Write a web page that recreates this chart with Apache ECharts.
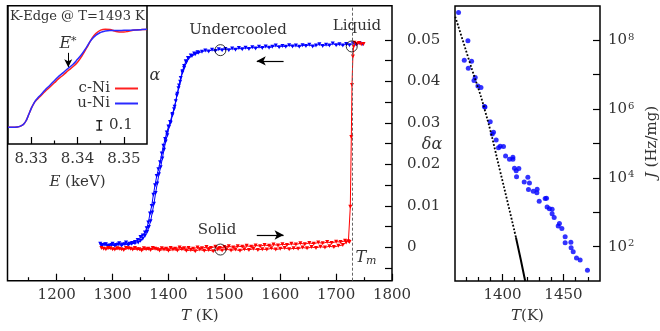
<!DOCTYPE html>
<html lang="en">
<head>
<meta charset="UTF-8">
<title>Ni undercooling</title>
<script src="https://cdn.jsdelivr.net/npm/echarts@6.0.0/dist/echarts.min.js"></script>
<style>
  html, body { margin: 0; padding: 0; background: #fff; }
  #chart { width: 660px; height: 331px; }
</style>
</head>
<body>
<div id="chart"></div>
<script>
// ---- main panel: delta alpha vs T ----
const mainXTicks = [1200, 1300, 1400, 1500, 1600, 1700, 1800];
const mainXMinor = [1150, 1250, 1350, 1450, 1550, 1650, 1750];
const mainYLabels = [0, 0.01, 0.02, 0.03, 0.04, 0.05];
const mainYTicks = [-0.005, 0, 0.005, 0.01, 0.015, 0.02, 0.025, 0.03, 0.035, 0.04, 0.045, 0.05];
const tMelt = 1728;

// undercooled liquid (cooling), two runs
const blueAT = [1748,1742,1736,1730,1724,1718,1712,1706,1700,1694,1688,1682,1676,1670,1664,1658,1652,1646,1640,1634,1628,1622,1616,1610,1604,1598,1592,1586,1580,1574,1568,1562,1556,1550,1544,1538,1532,1526,1520,1514,1508,1502,1496,1490,1484,1478,1472,1466,1460,1454,1448,1442,1436,1432,1428,1425,1421,1418,1415,1411,1407,1403,1400,1397,1394,1391,1388,1385,1382,1379,1376,1373,1370,1367,1364,1361,1358,1354,1350,1345,1340,1335,1330,1324,1318,1312,1306,1300,1294,1288,1282,1278];
const blueAV = [0.0489,0.0492,0.0488,0.0491,0.0487,0.0490,0.0486,0.0489,0.0487,0.0491,0.0486,0.0488,0.0485,0.0489,0.0486,0.0484,0.0488,0.0485,0.0487,0.0483,0.0486,0.0484,0.0487,0.0483,0.0485,0.0482,0.0486,0.0483,0.0481,0.0484,0.0480,0.0483,0.0479,0.0482,0.0478,0.0481,0.0477,0.0480,0.0476,0.0479,0.0475,0.0478,0.0475,0.0477,0.0473,0.0476,0.0472,0.0474,0.0471,0.0469,0.0465,0.0461,0.0455,0.0445,0.0432,0.0421,0.0399,0.0383,0.0366,0.0339,0.0321,0.0302,0.0291,0.0277,0.0261,0.0245,0.0226,0.0205,0.0188,0.0172,0.0150,0.0127,0.0100,0.0082,0.0060,0.0046,0.0036,0.0029,0.0025,0.0018,0.0013,0.0011,0.0009,0.0012,0.0007,0.0010,0.0006,0.0009,0.0005,0.0008,0.0006,0.0009];
const blueBT = [1280,1286,1292,1298,1304,1310,1316,1322,1328,1334,1340,1346,1350,1354,1358,1362,1365,1368,1371,1374,1377,1380,1383,1386,1389,1392,1395,1398,1401,1404,1407,1410,1413,1416,1419,1422,1425,1428,1431,1435,1440,1446,1452];
const blueBV = [0.0004,0.0007,0.0003,0.0006,0.0004,0.0007,0.0005,0.0008,0.0006,0.0009,0.0010,0.0012,0.0016,0.0021,0.0028,0.0038,0.0049,0.0063,0.0084,0.0105,0.0131,0.0154,0.0176,0.0193,0.0214,0.0235,0.0255,0.0270,0.0290,0.0300,0.0318,0.0333,0.0352,0.0370,0.0390,0.0408,0.0424,0.0437,0.0448,0.0456,0.0462,0.0467,0.0470];

// solid (heating), two runs
const red1T = [1280,1288,1296,1304,1312,1320,1328,1336,1344,1352,1360,1368,1376,1384,1392,1400,1408,1416,1424,1432,1440,1448,1456,1464,1472,1480,1488,1496,1504,1512,1520,1528,1536,1544,1552,1560,1568,1576,1584,1592,1600,1608,1616,1624,1632,1640,1648,1656,1664,1672,1680,1688,1696,1704,1712,1718];
const red1V = [-0.0001,-0.0004,-0.0002,-0.0005,-0.0003,-0.0006,-0.0002,-0.0005,-0.0004,-0.0007,-0.0004,-0.0006,-0.0003,-0.0007,-0.0005,-0.0008,-0.0005,-0.0007,-0.0004,-0.0008,-0.0006,-0.0009,-0.0005,-0.0008,-0.0006,-0.0009,-0.0005,-0.0007,-0.0004,-0.0007,-0.0005,-0.0008,-0.0004,-0.0006,-0.0003,-0.0006,-0.0004,-0.0005,-0.0002,-0.0005,-0.0003,-0.0001,-0.0004,-0.0002,-0.0003,0.0000,-0.0002,0.0001,-0.0001,0.0002,0.0000,0.0003,0.0001,0.0004,0.0006,0.0012];
const red2T = [1284,1292,1300,1308,1316,1324,1332,1340,1348,1356,1364,1372,1380,1388,1396,1404,1412,1420,1428,1436,1444,1452,1460,1468,1476,1484,1492,1500,1508,1516,1524,1532,1540,1548,1556,1564,1572,1580,1588,1596,1604,1612,1620,1628,1636,1644,1652,1660,1668,1676,1684,1692,1700,1708,1716,1722,1724,1725.4,1727.2,1728.4,1730,1731.3,1733,1737,1741,1745,1749];
const red2V = [-0.0003,-0.0001,-0.0004,-0.0002,-0.0004,-0.0001,-0.0003,-0.0001,-0.0004,-0.0002,-0.0003,-0.0001,-0.0004,-0.0002,-0.0003,-0.0001,-0.0003,0.0000,-0.0002,-0.0001,-0.0003,0.0000,-0.0002,0.0001,-0.0001,0.0002,-0.0001,0.0001,0.0003,0.0000,0.0003,0.0002,0.0004,0.0002,0.0005,0.0003,0.0006,0.0004,0.0007,0.0005,0.0008,0.0006,0.0009,0.0007,0.0010,0.0008,0.0011,0.0009,0.0012,0.0010,0.0013,0.0011,0.0014,0.0013,0.0016,0.0015,0.0013,0.0098,0.0266,0.0391,0.0460,0.0483,0.0493,0.0490,0.0492,0.0489,0.0490];

// state markers: undercooled, solid, liquid
const circleT = [1493, 1493, 1728];
const circleV = [0.0475, -0.0005, 0.0484];

// ---- inset: XANES K-edge ----
const xanesTicks = [8.33, 8.34, 8.35];
const xanesMinor = [8.335, 8.345];
const xanesE = [8.325,8.326,8.327,8.328,8.3285,8.329,8.3295,8.330,8.3305,8.331,8.3315,8.332,8.333,8.334,8.335,8.336,8.337,8.338,8.339,8.340,8.341,8.342,8.343,8.344,8.345,8.346,8.347,8.348,8.349,8.350,8.351,8.352,8.353,8.354,8.355];
const uNiMu = [0.0,0.0,0.003,0.02,0.04,0.08,0.14,0.20,0.25,0.29,0.32,0.345,0.40,0.45,0.50,0.55,0.59,0.635,0.675,0.73,0.79,0.865,0.94,0.99,1.02,1.035,1.04,1.04,1.041,1.042,1.043,1.045,1.047,1.05,1.053];
const cNiMu = [0.0,0.0,0.003,0.02,0.04,0.08,0.14,0.20,0.25,0.285,0.31,0.335,0.385,0.43,0.478,0.525,0.565,0.61,0.65,0.70,0.77,0.855,0.945,1.01,1.045,1.055,1.05,1.035,1.025,1.025,1.032,1.042,1.048,1.05,1.052];
const eStar = 8.338;

// ---- right panel: nucleation rate J ----
const jXTicks = [1400, 1450];
const jXMinor = [1370, 1380, 1390, 1410, 1420, 1430, 1440, 1460, 1470];
const jYTicks = [1e2, 1e3, 1e4, 1e5, 1e6, 1e7, 1e8];
const jYLabels = [1e2, 1e4, 1e6, 1e8];
const jT = [1363.9,1371.6,1368.6,1374.6,1371.9,1377.6,1376.6,1379.8,1382.3,1385.6,1385.2,1389.9,1392.6,1391.6,1394.8,1396.7,1398.1,1400.8,1402.5,1405.7,1408.5,1408.5,1409.8,1411.2,1413.4,1411.5,1417.8,1420.8,1422.1,1421.3,1425.2,1428.4,1428.2,1430.1,1435.0,1436.1,1436.6,1438.5,1440.7,1440.7,1442.4,1445.7,1446.7,1448.7,1451.4,1451.4,1456.1,1456.3,1458.0,1460.7,1463.7,1469.7];
const jLog = [8.81,7.99,7.42,7.39,7.19,6.92,6.83,6.67,6.63,6.06,6.08,5.63,5.33,5.28,5.10,4.88,4.92,4.91,4.64,4.54,4.60,4.54,4.28,4.21,4.27,4.03,3.88,4.02,3.85,3.66,3.61,3.67,3.57,3.32,3.40,3.41,3.15,3.10,3.09,2.96,2.85,2.60,2.67,2.53,2.29,2.11,2.13,1.97,1.85,1.67,1.61,1.31];
const cntDotT = [1361.2, 1373, 1385.5, 1398, 1411];
const cntDotLog = [8.69, 7.37, 5.97, 4.2, 2.27];
const cntSolidT = [1411, 1415, 1418.6];
const cntSolidLog = [2.27, 1.62, 1.0];

const FONT = 'DejaVu Serif';
const TXT = '#333';
const zip = (a, b) => a.map((v, i) => [v, b[i]]);
const pow10 = arr => arr.map(v => Math.pow(10, v));

const chart = echarts.init(document.getElementById('chart'));

const labelStyle = { fontFamily: FONT, fontSize: 15, color: TXT };
const italicRich = { i: { fontFamily: FONT, fontSize: 15, color: TXT, fontStyle: 'italic' } };
const tickStyle = { color: '#000', width: 1.2 };

function axisBase(extra) {
  return Object.assign({
    type: 'value',
    axisLine: { show: false, onZero: false },
    splitLine: { show: false }
  }, extra);
}

const option = {
  animation: false,
  backgroundColor: '#fff',
  textStyle: { fontFamily: FONT },
  grid: [
    { left: 7.5, top: 5.7, width: 384.5, height: 275, show: true, borderColor: '#000', borderWidth: 1.5, backgroundColor: 'transparent' },
    { left: 455, top: 6, width: 145, height: 275, show: true, borderColor: '#000', borderWidth: 1.5, backgroundColor: 'transparent' },
    { left: 8, top: 5.7, width: 139, height: 138.3, show: true, borderColor: '#000', borderWidth: 1.5, backgroundColor: '#fff', z: 3 }
  ],
  legend: {
    data: ['c-Ni', 'u-Ni'],
    orient: 'vertical',
    right: 522,
    top: 81,
    align: 'right',
    icon: 'rect',
    itemWidth: 23,
    itemHeight: 2,
    itemGap: 0,
    padding: 0,
    z: 12,
    textStyle: { fontFamily: FONT, fontSize: 15, color: TXT, lineHeight: 13 }
  },
  xAxis: [
    axisBase({
      gridIndex: 0, min: 1112, max: 1800, position: 'bottom',
      axisTick: { inside: true, length: 7, customValues: mainXTicks, lineStyle: tickStyle },
      axisLabel: Object.assign({ customValues: mainXTicks, margin: 7, formatter: v => String(v) }, labelStyle),
      name: '{i|T} (K)', nameLocation: 'middle', nameGap: 28,
      nameTextStyle: Object.assign({ rich: italicRich }, labelStyle)
    }),
    axisBase({
      gridIndex: 0, min: 1112, max: 1800, position: 'bottom',
      axisTick: { inside: true, length: 3.5, customValues: mainXMinor, lineStyle: tickStyle },
      axisLabel: { show: false }
    }),
    axisBase({
      gridIndex: 2, min: 8.325, max: 8.355, position: 'bottom', z: 5,
      axisTick: { inside: true, length: 7, customValues: xanesTicks, lineStyle: tickStyle },
      axisLabel: Object.assign({ customValues: xanesTicks, margin: 8, formatter: v => v.toFixed(2) }, labelStyle),
      name: '{i|E} (keV)', nameLocation: 'middle', nameGap: 31,
      nameTextStyle: Object.assign({ rich: italicRich }, labelStyle)
    }),
    axisBase({
      gridIndex: 2, min: 8.325, max: 8.355, position: 'bottom', z: 5,
      axisTick: { inside: true, length: 3.5, customValues: xanesMinor, lineStyle: tickStyle },
      axisLabel: { show: false }
    }),
    axisBase({
      gridIndex: 1, min: 1361, max: 1480, position: 'bottom',
      axisTick: { inside: true, length: 7, customValues: jXTicks, lineStyle: tickStyle },
      axisLabel: Object.assign({ customValues: jXTicks, margin: 7, formatter: v => String(v) }, labelStyle),
      name: '{i|T}(K)', nameLocation: 'middle', nameGap: 28,
      nameTextStyle: Object.assign({ rich: italicRich }, labelStyle)
    }),
    axisBase({
      gridIndex: 1, min: 1361, max: 1480, position: 'bottom',
      axisTick: { inside: true, length: 4, customValues: jXMinor, lineStyle: tickStyle },
      axisLabel: { show: false }
    })
  ],
  yAxis: [
    axisBase({
      gridIndex: 0, min: -0.008, max: 0.0582, position: 'right',
      axisTick: { inside: true, length: 7, customValues: mainYTicks, lineStyle: tickStyle },
      axisLabel: Object.assign({ customValues: mainYLabels, margin: 15, formatter: v => v === 0 ? '0' : v.toFixed(2) }, labelStyle)
    }),
    axisBase({ gridIndex: 2, min: -0.18, max: 1.307, show: false }),
    {
      gridIndex: 1, type: 'log', logBase: 10, min: 10, max: 1e9, position: 'right',
      axisLine: { show: false, onZero: false }, splitLine: { show: false },
      axisTick: { inside: true, length: 7, customValues: jYTicks, lineStyle: tickStyle },
      axisLabel: {
        customValues: jYLabels, margin: 8,
        formatter: v => '{b|10}{s|' + Math.round(Math.log10(v)) + '}',
        rich: {
          b: { fontFamily: FONT, fontSize: 15, color: TXT },
          s: { fontFamily: FONT, fontSize: 10, color: TXT, verticalAlign: 'top', padding: [0, 0, 6, 1] }
        }
      }
    }
  ],
  series: [
    {
      name: 'undercooled A', type: 'line', xAxisIndex: 0, yAxisIndex: 0,
      data: zip(blueAT, blueAV),
      symbol: 'triangle', symbolRotate: 180, symbolSize: 4, showAllSymbol: true,
      lineStyle: { color: '#0000ff', width: 1 }, itemStyle: { color: '#0000ff' }
    },
    {
      name: 'undercooled B', type: 'line', xAxisIndex: 0, yAxisIndex: 0,
      data: zip(blueBT, blueBV),
      symbol: 'triangle', symbolRotate: 180, symbolSize: 4, showAllSymbol: true,
      lineStyle: { color: '#0000ff', width: 1 }, itemStyle: { color: '#0000ff' }
    },
    {
      name: 'solid A', type: 'line', xAxisIndex: 0, yAxisIndex: 0,
      data: zip(red1T, red1V),
      symbol: 'triangle', symbolRotate: 180, symbolSize: 4, showAllSymbol: true,
      lineStyle: { color: '#ff0000', width: 1 }, itemStyle: { color: '#ff0000' },
      markLine: {
        silent: true, symbol: ['none', 'none'], label: { show: false },
        lineStyle: { color: '#666', type: [3, 2], width: 1 },
        data: [{ xAxis: tMelt }]
      }
    },
    {
      name: 'solid B', type: 'line', xAxisIndex: 0, yAxisIndex: 0,
      data: zip(red2T, red2V),
      symbol: 'triangle', symbolRotate: 180, symbolSize: 4, showAllSymbol: true,
      lineStyle: { color: '#ff0000', width: 1 }, itemStyle: { color: '#ff0000' }
    },
    {
      name: 'states', type: 'scatter', xAxisIndex: 0, yAxisIndex: 0,
      data: zip(circleT, circleV), z: 5,
      symbol: 'circle', symbolSize: 11,
      itemStyle: { color: 'rgba(0,0,0,0)', borderColor: '#000', borderWidth: 1 },
      markLine: {
        silent: true, symbol: ['none', 'arrow'], symbolSize: [7, 9], label: { show: false },
        lineStyle: { color: '#000', type: 'solid', width: 1.2 }, itemStyle: { color: '#000' },
        data: [
          [{ coord: [1606, 0.0449] }, { coord: [1558, 0.0449] }],
          [{ coord: [1558, 0.003] }, { coord: [1606, 0.003] }]
        ]
      }
    },
    {
      name: 'c-Ni', type: 'line', xAxisIndex: 2, yAxisIndex: 1, z: 10,
      data: zip(xanesE, cNiMu), smooth: true, showSymbol: false,
      lineStyle: { color: '#ff2020', width: 1.5 }, itemStyle: { color: '#ff2020' }
    },
    {
      name: 'u-Ni', type: 'line', xAxisIndex: 2, yAxisIndex: 1, z: 10,
      data: zip(xanesE, uNiMu), smooth: true, showSymbol: false,
      lineStyle: { color: '#2a2aff', width: 1.5 }, itemStyle: { color: '#2a2aff' },
      markLine: {
        silent: true, symbol: ['none', 'arrow'], symbolSize: [6, 8], label: { show: false },
        lineStyle: { color: '#000', type: 'solid', width: 1 }, itemStyle: { color: '#000' },
        data: [[{ coord: [eStar, 0.80] }, { coord: [eStar, 0.645] }]]
      }
    },
    {
      name: 'scale', type: 'line', xAxisIndex: 2, yAxisIndex: 1, z: 10,
      data: [[8.3447, -0.03], [8.3447, 0.07]],
      symbol: 'rect', symbolSize: [6, 1.2], showSymbol: true,
      lineStyle: { color: '#000', width: 1.2 }, itemStyle: { color: '#000' }
    },
    {
      name: 'J', type: 'scatter', xAxisIndex: 4, yAxisIndex: 2,
      data: zip(jT, pow10(jLog)), symbolSize: 5,
      itemStyle: { color: '#0000ff' }
    },
    {
      name: 'CNT dotted', type: 'line', xAxisIndex: 4, yAxisIndex: 2,
      data: zip(cntDotT, pow10(cntDotLog)), showSymbol: false, smooth: true,
      lineStyle: { color: '#000', type: 'dotted', width: 1.8 }
    },
    {
      name: 'CNT solid', type: 'line', xAxisIndex: 4, yAxisIndex: 2,
      data: zip(cntSolidT, pow10(cntSolidLog)), showSymbol: false,
      lineStyle: { color: '#000', width: 2 }
    }
  ],
  graphic: [
    { type: 'text', x: 238, y: 30, z: 20, style: { text: 'Undercooled', font: '15px "DejaVu Serif"', fill: TXT, align: 'center', verticalAlign: 'middle' } },
    { type: 'text', x: 217, y: 230, z: 20, style: { text: 'Solid', font: '15px "DejaVu Serif"', fill: TXT, align: 'center', verticalAlign: 'middle' } },
    { type: 'text', x: 357, y: 26, z: 20, style: { text: 'Liquid', font: '15px "DejaVu Serif"', fill: TXT, align: 'center', verticalAlign: 'middle' } },
    { type: 'text', x: 366, y: 258, z: 20, style: {
        text: '{i|T}{s|m}', align: 'center', verticalAlign: 'middle',
        rich: { i: { font: 'italic 16px "DejaVu Serif"', fill: TXT }, s: { font: 'italic 11px "DejaVu Serif"', fill: TXT, verticalAlign: 'bottom', padding: [6, 0, 0, 0] } }
    } },
    { type: 'text', x: 155, y: 76, z: 20, style: { text: 'α', font: 'italic 16px "DejaVu Serif"', fill: TXT, align: 'center', verticalAlign: 'middle' } },
    { type: 'text', x: 432, y: 145, z: 20, style: { text: 'δα', font: 'italic 16px "DejaVu Serif"', fill: TXT, align: 'center', verticalAlign: 'middle' } },
    { type: 'text', x: 10, y: 17, z: 20, style: { text: 'K-Edge @ T=1493 K', font: '13px "DejaVu Serif"', fill: TXT, align: 'left', verticalAlign: 'middle' } },
    { type: 'text', x: 68, y: 44, z: 20, style: {
        text: '{i|E}{s|*}', align: 'center', verticalAlign: 'middle',
        rich: { i: { font: 'italic 16px "DejaVu Serif"', fill: TXT }, s: { font: '11px "DejaVu Serif"', fill: TXT, verticalAlign: 'top' } }
    } },
    { type: 'text', x: 109, y: 125, z: 20, style: { text: '0.1', font: '15px "DejaVu Serif"', fill: TXT, align: 'left', verticalAlign: 'middle' } },
    { type: 'text', x: 652, y: 142, z: 20, rotation: Math.PI / 2, style: {
        text: '{i|J} (Hz/mg)', align: 'center', verticalAlign: 'middle',
        rich: { i: { font: 'italic 15px "DejaVu Serif"', fill: TXT } },
        font: '15px "DejaVu Serif"', fill: TXT
    } }
  ]
};

chart.setOption(option);
</script>
</body>
</html>
